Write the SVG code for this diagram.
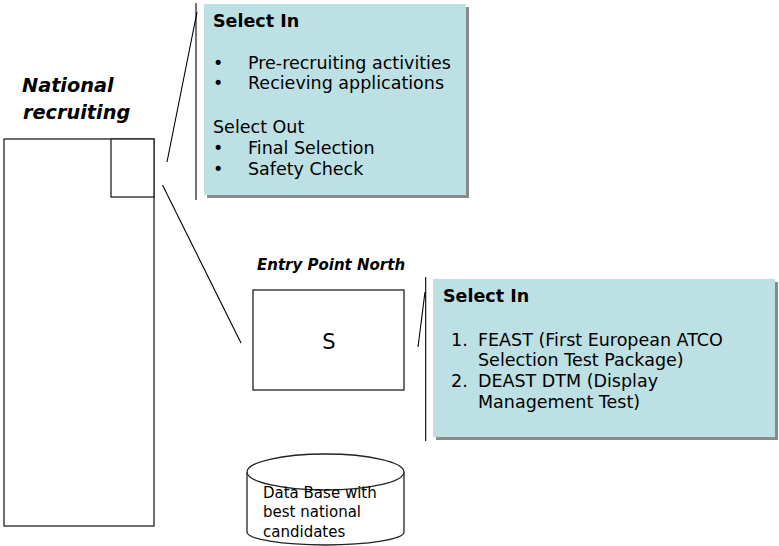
<svg xmlns="http://www.w3.org/2000/svg" width="779" height="546" viewBox="0 0 779 546">
<style>
  text { font-family: "DejaVu Sans", Verdana, "Liberation Sans", sans-serif; fill: #000; }
  .body { font-size: 17.5px; }
  .bold { font-weight: bold; }
  .bi { font-weight: bold; font-style: italic; }
  .frame { fill: #fff; stroke: #222; stroke-width: 1.3; }
  .note { fill: #BCE0E3; }
  .shadow { fill: #8a8a8a; }
  .line { stroke: #000; stroke-width: 1.1; fill: none; }
</style>
<rect width="779" height="546" fill="#fff"/>

<g id="national-recruiting">
  <text class="bi" font-size="19.3" x="22" y="92">National</text>
  <text class="bi" font-size="19.3" x="23" y="119">recruiting</text>
  <rect class="frame" x="4" y="139" width="150" height="387"/>
  <rect class="frame" x="111" y="139" width="43" height="58"/>
</g>

<g id="note-national">
  <rect class="shadow" x="207" y="7" width="262" height="191"/>
  <rect class="note" x="204" y="4" width="262" height="191"/>
  <text class="body bold" x="213" y="27">Select In</text>
  <text class="body" x="213" y="69">•</text>
  <text class="body" x="248" y="69">Pre-recruiting activities</text>
  <text class="body" x="213" y="89">•</text>
  <text class="body" x="248" y="89">Recieving applications</text>
  <text class="body" x="213" y="133">Select Out</text>
  <text class="body" x="213" y="154">•</text>
  <text class="body" x="248" y="154">Final Selection</text>
  <text class="body" x="213" y="175">•</text>
  <text class="body" x="248" y="175">Safety Check</text>
</g>

<g id="entry-point-north">
  <text class="bi" font-size="15" x="257" y="270">Entry Point North</text>
  <rect class="frame" x="253" y="290" width="151" height="100"/>
  <text font-size="21" x="329" y="349" text-anchor="middle">S</text>
</g>

<g id="note-entry">
  <rect class="shadow" x="436" y="282" width="342" height="158"/>
  <rect class="note" x="433" y="279" width="342" height="158"/>
  <text class="body bold" x="443" y="302">Select In</text>
  <text class="body" x="451" y="346">1.</text>
  <text class="body" x="478" y="346">FEAST (First European ATCO</text>
  <text class="body" x="478" y="366">Selection Test Package)</text>
  <text class="body" x="451" y="387">2.</text>
  <text class="body" x="478" y="387">DEAST DTM (Display</text>
  <text class="body" x="478" y="408">Management Test)</text>
</g>

<g id="database">
  <path class="frame" d="M247,472 L247,532 A78.5,13 0 0 0 404,532 L404,472"/>
  <ellipse class="frame" cx="325.5" cy="472" rx="78.5" ry="18"/>
  <text font-size="15" x="263" y="498">Data Base with</text>
  <text font-size="15" x="263" y="517">best national</text>
  <text font-size="15" x="263" y="537">candidates</text>
</g>

<g id="connectors">
  <line class="line" x1="196" y1="3" x2="196" y2="200"/>
  <line class="line" x1="197" y1="12" x2="167" y2="162"/>
  <line class="line" x1="162.5" y1="185" x2="241" y2="343"/>
  <line class="line" x1="425.7" y1="277" x2="425.7" y2="441"/>
  <line class="line" x1="425" y1="292" x2="418" y2="347"/>
</g>
</svg>
